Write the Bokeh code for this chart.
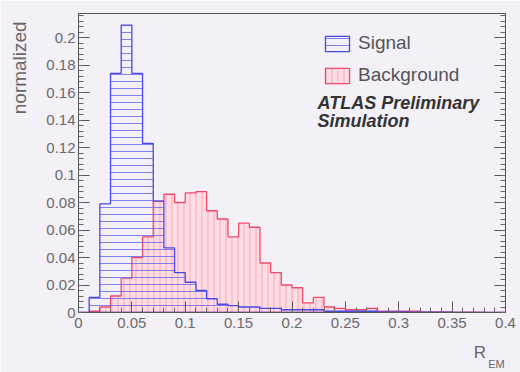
import numpy as np
from bokeh.plotting import figure
from bokeh.models import (Range1d, LinearAxis, Legend, LegendItem, Label,
                          CustomJSTickFormatter, FixedTicker)
from bokeh.embed import file_html
from bokeh.resources import INLINE

# ---------------- data ----------------
bin_left = [0.00, 0.01, 0.02, 0.03, 0.04, 0.05, 0.06, 0.07, 0.08, 0.09,
            0.10, 0.11, 0.12, 0.13, 0.14, 0.15, 0.16, 0.17, 0.18, 0.19,
            0.20, 0.21, 0.22, 0.23, 0.24, 0.25, 0.26, 0.27, 0.28, 0.29,
            0.30, 0.31, 0.32, 0.33, 0.34, 0.35, 0.36, 0.37, 0.38, 0.39]
bin_width = 0.01

signal = [0.000, 0.011, 0.079, 0.174, 0.209, 0.174, 0.123, 0.081, 0.047, 0.029,
          0.022, 0.016, 0.010, 0.006, 0.005, 0.004, 0.004, 0.003, 0.003, 0.002,
          0.002, 0.002, 0.002, 0.001, 0.001, 0.001, 0.001, 0.001, 0.0005, 0.0005,
          0.0005, 0.0003, 0.0003, 0.0002, 0.0002, 0.0001, 0.0001, 0.0001, 0.0, 0.0]

background = [0.000, 0.001, 0.004, 0.012, 0.025, 0.040, 0.055, 0.081, 0.086, 0.080,
              0.087, 0.088, 0.074, 0.068, 0.055, 0.065, 0.062, 0.036, 0.029, 0.020,
              0.018, 0.007, 0.011, 0.004, 0.003, 0.002, 0.002, 0.003, 0.001, 0.001,
              0.001, 0.001, 0.0005, 0.0005, 0.0005, 0.0003, 0.0003, 0.0002, 0.0001, 0.0]

x_major = [0.0, 0.05, 0.1, 0.15, 0.2, 0.25, 0.3, 0.35, 0.4]
y_major = [0.0, 0.02, 0.04, 0.06, 0.08, 0.1, 0.12, 0.14, 0.16, 0.18, 0.2]

# axis titles (text and the axis value they sit at)
y_title, y_title_at = "normalized", 0.178
x_title, x_title_at = "R", 0.376
x_title_sub, x_title_sub_at = "EM", 0.3915

# ---------------- helpers ----------------
def stepped(lefts, width, vals):
    edges = np.append(np.asarray(lefts), lefts[-1] + width)
    xs = np.repeat(edges, 2)
    ys = np.concatenate([[0.0], np.repeat(np.asarray(vals), 2), [0.0]])
    return xs, ys

BG = "#f3f0f8"
FONT = "Liberation Sans"

p = figure(width=520, height=372, output_backend="svg", toolbar_location=None,
           x_range=Range1d(0, 0.4), y_range=Range1d(0, 0.2175),
           min_border_left=78, min_border_right=15, min_border_top=13,
           min_border_bottom=60)
p.background_fill_color = BG
p.border_fill_color = BG
p.outline_line_color = "#555555"
p.outline_line_width = 1
p.grid.visible = False

bx, by = stepped(bin_left, bin_width, background)
sx, sy = stepped(bin_left, bin_width, signal)

bkg = p.patch(bx, by, fill_color="#ffdde5", fill_alpha=1.0,
              hatch_pattern="vertical_line", hatch_color="#f27a92",
              hatch_scale=6, hatch_weight=1, hatch_alpha=0.55,
              line_color="#f04a6a", line_width=1.3)
sig = p.patch(sx, sy, fill_alpha=0.0,
              hatch_pattern="horizontal_line", hatch_color="#6464f0",
              hatch_scale=7, hatch_weight=1, hatch_alpha=0.8,
              line_color="#4848e6", line_width=1.3)

fmt = CustomJSTickFormatter(code="return tick == 0 ? '0' : String(parseFloat(tick.toFixed(3)));")

x_minor = list(np.round(np.arange(0, 0.4001, 0.01), 3))
y_minor = list(np.round(np.arange(0, 0.2175, 0.004), 4))

xa = p.xaxis[0]
xa.ticker = FixedTicker(ticks=x_major, minor_ticks=x_minor)
xa.formatter = fmt
ya = p.yaxis[0]
ya.ticker = FixedTicker(ticks=y_major, minor_ticks=y_minor)
ya.formatter = fmt

for ax in (xa, ya):
    ax.major_tick_in = 11
    ax.major_tick_out = 0
    ax.minor_tick_in = 5
    ax.minor_tick_out = 0
    ax.axis_line_color = "#555555"
    ax.major_tick_line_color = "#555555"
    ax.minor_tick_line_color = "#666666"
    ax.major_label_text_font = FONT
    ax.major_label_text_font_size = "15px"
    ax.major_label_text_color = "#6a6a6a"
xa.major_label_standoff = 5
ya.major_label_standoff = 3

ra = LinearAxis(ticker=FixedTicker(ticks=y_major, minor_ticks=y_minor),
                major_label_text_alpha=0, major_label_text_font_size="1px",
                major_tick_in=11, major_tick_out=0, minor_tick_in=5, minor_tick_out=0,
                axis_line_color="#555555", major_tick_line_color="#555555",
                minor_tick_line_color="#666666")
p.add_layout(ra, "right")


def title_axis(text, at, size, standoff, orientation="horizontal"):
    return LinearAxis(ticker=FixedTicker(ticks=[at], minor_ticks=[]),
                      formatter=CustomJSTickFormatter(args=dict(t=text), code="return t;"),
                      major_label_orientation=orientation,
                      major_label_standoff=standoff,
                      major_label_text_font=FONT, major_label_text_font_size=size,
                      major_label_text_color="#666666",
                      major_tick_in=0, major_tick_out=0, minor_tick_in=0, minor_tick_out=0,
                      major_tick_line_color=None, minor_tick_line_color=None,
                      axis_line_color=None)


p.add_layout(title_axis(y_title, y_title_at, "19px", 13, "vertical"), "left")
p.add_layout(title_axis(x_title, x_title_at, "17px", 12), "below")
p.add_layout(title_axis(x_title_sub, x_title_sub_at, "11px", -7), "below")

legend = Legend(items=[LegendItem(label="Signal", renderers=[sig]),
                       LegendItem(label="Background", renderers=[bkg])],
                location=(244, 226), orientation="vertical",
                glyph_width=30, glyph_height=19, label_height=19,
                label_standoff=6, spacing=10, padding=0, margin=0,
                border_line_alpha=0, background_fill_alpha=0,
                label_text_font=FONT, label_text_font_size="19px",
                label_text_color="#555555", label_text_baseline="middle")
p.add_layout(legend)

p.add_layout(Label(x=239, y=210, x_units="screen", y_units="screen",
                   text="ATLAS Preliminary", text_font=FONT, text_font_size="18px",
                   text_font_style="bold italic", text_color="#333333",
                   text_baseline="middle"))
p.add_layout(Label(x=239, y=192, x_units="screen", y_units="screen",
                   text="Simulation", text_font=FONT, text_font_size="18px",
                   text_font_style="bold italic", text_color="#333333",
                   text_baseline="middle"))

open("out.html", "w").write(file_html(p, INLINE))
